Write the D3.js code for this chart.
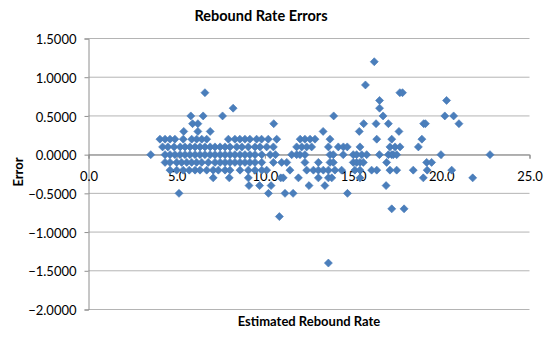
<!DOCTYPE html>
<html>
<head>
<meta charset="utf-8">
<script src="https://cdn.jsdelivr.net/npm/d3@7/dist/d3.min.js"></script>
<style>
  html, body { margin: 0; padding: 0; background: #ffffff; }
  svg { display: block; }
  text { font-family: Lato, "Open Sans", sans-serif; fill: #000; }
</style>
</head>
<body>
<svg id="chart" width="548" height="339"></svg>
<script>
// Residual error of the estimated rebound rate, grouped by error level.
const errorLevels = [1.2, 0.9, 0.8, 0.7, 0.6, 0.5, 0.4, 0.3, 0.2, 0.1, 0, -0.1, -0.2, -0.3, -0.4, -0.5, -0.7, -0.8, -1.4];

// Estimated rebound rates observed at each error level (same order as errorLevels).
const estimatedRates = [
  [16.2],
  [15.7],
  [6.6, 17.65, 17.8],
  [16.5, 20.3],
  [8.2, 16.5],
  [5.8, 6.5, 7.6, 13.9, 16.7, 20.2, 20.7],
  [5.9, 6.2, 10.5, 15.6, 16.3, 17.0, 19.0, 19.1, 21.0],
  [5.4, 6.2, 6.9, 13.3, 15.35, 17.6],
  [4.05, 4.34, 4.62, 4.9, 5.37, 5.85, 6.13, 6.42, 6.7, 7.93, 8.3, 8.58, 8.87, 9.15, 9.53, 9.81, 10.19, 10.67, 12.0, 12.27, 12.56, 12.84, 13.69, 16.34, 17.19, 18.9],
  [4.2, 4.5, 4.85, 5.2, 5.47, 5.75, 6.04, 6.32, 6.6, 6.9, 7.17, 7.46, 7.74, 8.02, 8.4, 8.7, 9.06, 9.44, 9.72, 10.1, 10.48, 11.8, 12.09, 12.37, 12.65, 13.6, 14.16, 14.45, 14.67, 15.39, 17.09, 17.38, 17.66, 18.7],
  [3.53, 4.34, 4.62, 4.9, 5.19, 5.47, 5.75, 6.04, 6.32, 6.6, 6.89, 7.17, 7.46, 7.74, 8.02, 8.3, 8.59, 8.87, 9.15, 9.44, 9.82, 10.3, 10.6, 11.52, 11.8, 11.99, 12.27, 13.69, 13.88, 14.44, 15.01, 15.2, 15.49, 15.77, 16.49, 17.0, 17.19, 17.28, 17.47, 19.98, 22.76],
  [4.34, 4.62, 5.0, 5.28, 5.57, 5.85, 6.13, 6.42, 6.79, 7.17, 7.46, 7.74, 8.02, 8.3, 8.59, 8.87, 9.15, 9.44, 9.82, 10.48, 10.95, 11.24, 12.27, 13.03, 13.69, 13.88, 15.01, 15.2, 15.39, 15.58, 16.9, 19.17, 19.45],
  [4.62, 5.0, 5.37, 5.71, 6.04, 6.32, 6.7, 7.07, 7.36, 7.74, 8.02, 8.59, 9.06, 9.44, 9.82, 10.1, 11.42, 12.37, 12.75, 13.03, 13.31, 13.6, 13.97, 14.35, 15.1, 15.39, 16.05, 16.34, 17.09, 17.47, 18.41, 19.2, 20.59],
  [7.07, 7.98, 9.06, 10.9, 11.04, 11.9, 13.03, 13.6, 13.79, 15.39, 18.98, 21.78],
  [9.1, 9.7, 10.35, 12.5, 13.4, 16.87],
  [5.13, 10.2, 11.14, 11.6, 14.68],
  [17.19, 17.89],
  [10.82],
  [13.6]
];

const xTicks = [0, 5, 10, 15, 20, 25];
const yTicks = [-2, -1.5, -1, -0.5, 0, 0.5, 1, 1.5];

const chartTitle = "Rebound Rate Errors";
const xTitle = "Estimated Rebound Rate";
const yTitle = "Error";

const points = errorLevels.flatMap((err, i) =>
  estimatedRates[i].map(rate => ({ rate, err })));

const svg = d3.select("#chart");
const plot = { left: 88.5, right: 529.5, top: 38.5, bottom: 309.5 };

const x = d3.scaleLinear().domain([0, 25]).range([plot.left, plot.right]);
const y = d3.scaleLinear().domain([-2, 1.5]).range([plot.bottom, plot.top]);

// Horizontal gridlines
svg.append("g")
  .selectAll("line")
  .data(yTicks)
  .join("line")
  .attr("x1", plot.left)
  .attr("x2", plot.right)
  .attr("y1", d => y(d))
  .attr("y2", d => y(d))
  .attr("stroke", "#b4b4b4")
  .attr("stroke-width", 1);

// Vertical value axis on the left
const yAxis = svg.append("g")
  .attr("transform", `translate(${plot.left},0)`)
  .call(d3.axisLeft(y).tickValues(yTicks).tickFormat(d3.format(".4f")).tickSize(4).tickPadding(8));
yAxis.select(".domain").attr("stroke", "#8e8e8e");
yAxis.selectAll(".tick line").attr("stroke", "#8e8e8e");
yAxis.selectAll(".tick text")
  .attr("font-family", "Lato, 'Open Sans', sans-serif")
  .attr("font-size", 13)
  .attr("fill", "#000")
  .attr("dy", "0.4em");

// Horizontal axis crossing at zero error
const xAxis = svg.append("g")
  .attr("transform", `translate(0,${y(0)})`)
  .call(d3.axisBottom(x).tickValues(xTicks).tickFormat(d3.format(".1f")).tickSize(4).tickPadding(13).tickSizeOuter(4));
xAxis.select(".domain").attr("stroke", "#8e8e8e");
xAxis.selectAll(".tick line").attr("stroke", "#8e8e8e");
xAxis.selectAll(".tick text")
  .attr("font-family", "Lato, 'Open Sans', sans-serif")
  .attr("font-size", 13)
  .attr("fill", "#000");

// Diamond markers
const diamond = d3.symbol().type(d3.symbolSquare).size(32);
svg.append("g")
  .selectAll("path")
  .data(points)
  .join("path")
  .attr("d", diamond)
  .attr("transform", d => `translate(${x(d.rate)},${y(d.err)}) rotate(45)`)
  .attr("fill", "#4a7ebb")
  .attr("stroke", "#4579b8")
  .attr("stroke-width", 0.6);

// Titles
svg.append("text")
  .attr("x", 261)
  .attr("y", 21)
  .attr("text-anchor", "middle")
  .attr("font-size", 14.5)
  .attr("font-weight", "bold")
  .text(chartTitle);

svg.append("text")
  .attr("x", (plot.left + plot.right) / 2)
  .attr("y", 326)
  .attr("text-anchor", "middle")
  .attr("font-size", 13)
  .attr("font-weight", "bold")
  .text(xTitle);

svg.append("text")
  .attr("transform", "translate(23,172) rotate(-90)")
  .attr("text-anchor", "middle")
  .attr("font-size", 13)
  .attr("font-weight", "bold")
  .text(yTitle);
</script>
</body>
</html>
